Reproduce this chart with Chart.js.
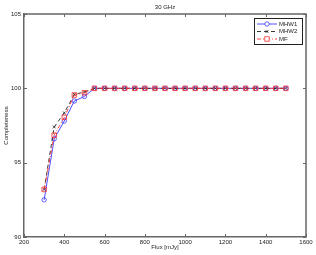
<!DOCTYPE html>
<html>
<head>
<meta charset="utf-8">
<script src="https://cdn.jsdelivr.net/npm/chart.js@4/dist/chart.umd.min.js"></script>
<style>
  html, body { margin: 0; padding: 0; background: #fff; }
  #wrap { width: 316px; height: 255px; }
</style>
</head>
<body>
<div id="wrap"><canvas id="chart" width="316" height="255"></canvas></div>
<script>
// ---- data ----
const fluxValues = [300, 350, 400, 450, 500, 550, 600, 650, 700, 750, 800, 850, 900,
                    950, 1000, 1050, 1100, 1150, 1200, 1250, 1300, 1350, 1400, 1450, 1500];
const mhw1 = [92.5, 96.6, 97.8, 99.15, 99.45, 100, 100, 100, 100, 100, 100, 100, 100,
              100, 100, 100, 100, 100, 100, 100, 100, 100, 100, 100, 100];
const mhw2 = [93.2, 97.4, 98.35, 99.6, 99.75, 100, 100, 100, 100, 100, 100, 100, 100,
              100, 100, 100, 100, 100, 100, 100, 100, 100, 100, 100, 100];
const mf = [93.2, 96.85, 98.05, 99.55, 99.7, 100, 100, 100, 100, 100, 100, 100, 100,
            100, 100, 100, 100, 100, 100, 100, 100, 100, 100, 100, 100];
const seriesNames = ['MHW1', 'MHW2', 'MF'];
const xTicks = [200, 400, 600, 800, 1000, 1200, 1400, 1600];
const yTicks = [90, 95, 100, 105];

const chartTitle = '30 GHz';
const xLabel = 'Flux [mJy]';
const yLabel = 'Completeness';

const FONT = 'Liberation Sans, Arial, sans-serif';
const AXIS_COLOR = '#666';

function toPoints(values) {
    return fluxValues.map((x, i) => ({ x: x, y: values[i] }));
}

// ---- title, inward ticks, box, legend ----
const matlabFrame = {
    id: 'matlabFrame',
    afterDraw(chart) {
        const ctx = chart.ctx;
        const area = chart.chartArea;
        const xs = chart.scales.x;
        const ys = chart.scales.y;
        ctx.save();

        // box top/right
        ctx.strokeStyle = AXIS_COLOR;
        ctx.lineWidth = 1.5;
        ctx.beginPath();
        ctx.moveTo(area.left, area.top);
        ctx.lineTo(area.right, area.top);
        ctx.lineTo(area.right, area.bottom);
        ctx.stroke();

        // inward ticks
        ctx.lineWidth = 1;
        ctx.beginPath();
        xTicks.forEach(v => {
            const px = Math.round(xs.getPixelForValue(v)) + 0.5;
            ctx.moveTo(px, area.bottom); ctx.lineTo(px, area.bottom - 3);
            ctx.moveTo(px, area.top); ctx.lineTo(px, area.top + 3);
        });
        yTicks.forEach(v => {
            const py = Math.round(ys.getPixelForValue(v)) + 0.5;
            ctx.moveTo(area.left, py); ctx.lineTo(area.left + 3, py);
            ctx.moveTo(area.right, py); ctx.lineTo(area.right - 3, py);
        });
        ctx.stroke();

        // title
        ctx.fillStyle = '#222';
        ctx.font = '6px ' + FONT;
        ctx.textAlign = 'center';
        ctx.textBaseline = 'middle';
        ctx.fillText(chartTitle, (area.left + area.right) / 2, 7);

        // legend
        const bx = 254, by = 18, bw = 48, bh = 26;
        ctx.fillStyle = '#fff';
        ctx.fillRect(bx, by, bw, bh);
        ctx.strokeStyle = '#222';
        ctx.lineWidth = 1;
        ctx.strokeRect(bx + 0.5, by + 0.5, bw, bh);
        const rows = [24, 31.5, 39];
        chart.data.datasets.forEach((ds, i) => {
            const y = rows[i];
            ctx.strokeStyle = ds.borderColor;
            ctx.lineWidth = ds.borderWidth;
            ctx.setLineDash(ds.borderDash || []);
            ctx.beginPath();
            ctx.moveTo(257, y); ctx.lineTo(277, y);
            ctx.stroke();
            ctx.setLineDash([]);
            ctx.fillStyle = '#fff';
            ctx.strokeStyle = ds.pointBorderColor;
            ctx.lineWidth = ds.pointBorderWidth;
            Chart.helpers.drawPoint(ctx, {
                pointStyle: ds.pointStyle,
                radius: ds.pointRadius,
                borderWidth: ds.pointBorderWidth
            }, 267, y);
            ctx.fillStyle = '#222';
            ctx.font = '6px ' + FONT;
            ctx.textAlign = 'left';
            ctx.textBaseline = 'middle';
            ctx.fillText(ds.label, 279, y);
        });
        ctx.restore();
    }
};

const ctx = document.getElementById('chart').getContext('2d');
new Chart(ctx, {
    type: 'line',
    data: {
        datasets: [
            {
                label: seriesNames[0], data: toPoints(mhw1), order: 2,
                borderColor: '#3c3cff', borderWidth: 0.9,
                pointStyle: 'circle', pointRadius: 2.2, pointBorderWidth: 0.8,
                pointBorderColor: '#3c3cff', pointBackgroundColor: 'rgba(0,0,0,0)'
            },
            {
                label: seriesNames[1], data: toPoints(mhw2), order: 1,
                borderColor: '#222', borderWidth: 0.9, borderDash: [4, 3],
                pointStyle: 'crossRot', pointRadius: 2, pointBorderWidth: 0.8,
                pointBorderColor: '#222', pointBackgroundColor: 'rgba(0,0,0,0)'
            },
            {
                label: seriesNames[2], data: toPoints(mf), order: 0,
                borderColor: '#ff3030', borderWidth: 0.9, borderDash: [4, 2, 1, 2],
                pointStyle: 'rect', pointRadius: 3.2, pointBorderWidth: 0.8,
                pointBorderColor: '#ff3030', pointBackgroundColor: 'rgba(0,0,0,0)'
            }
        ]
    },
    options: {
        responsive: false,
        animation: false,
        layout: { padding: { top: 14, right: 10, bottom: 0, left: 0 } },
        plugins: {
            legend: { display: false },
            title: { display: false },
            tooltip: { enabled: false }
        },
        scales: {
            x: {
                type: 'linear', min: 200, max: 1600,
                afterFit(scale) { scale.height = 18; },
                afterBuildTicks(scale) { scale.ticks = xTicks.map(v => ({ value: v })); },
                grid: { display: false, drawTicks: false },
                border: { display: true, color: AXIS_COLOR, width: 1.5 },
                ticks: { color: '#222', font: { family: FONT, size: 6 }, padding: 2, maxRotation: 0,
                         callback: v => String(v) },
                title: { display: true, text: xLabel, color: '#222',
                         font: { family: FONT, size: 6 }, padding: { top: 0, bottom: 4 } }
            },
            y: {
                min: 90, max: 105,
                afterFit(scale) { scale.width = 24; },
                afterBuildTicks(scale) { scale.ticks = yTicks.map(v => ({ value: v })); },
                grid: { display: false, drawTicks: false },
                border: { display: true, color: AXIS_COLOR, width: 1.5 },
                ticks: { color: '#222', font: { family: FONT, size: 6 }, padding: 3,
                         callback: v => String(v) },
                title: { display: true, text: yLabel, color: '#222',
                         font: { family: FONT, size: 6 }, padding: { top: 3, bottom: 0 } }
            }
        }
    },
    plugins: [matlabFrame]
});
</script>
</body>
</html>
